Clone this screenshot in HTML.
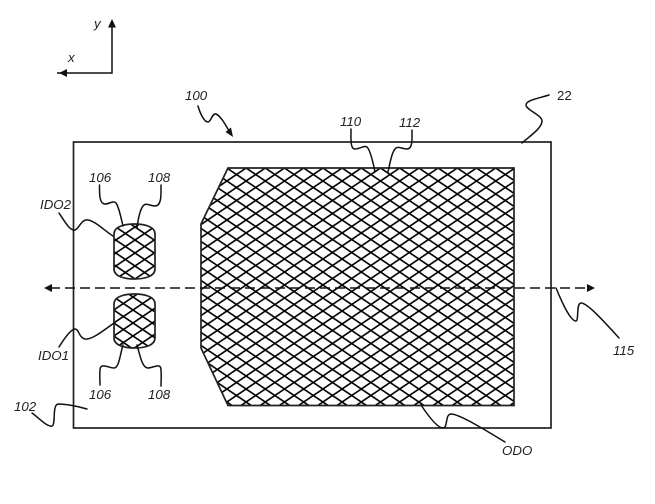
<!DOCTYPE html>
<html>
<head>
<meta charset="utf-8">
<style>
html,body{margin:0;padding:0;background:#fff;}
svg{display:block;}
text{font-family:"Liberation Sans",sans-serif;font-size:13.3px;font-style:italic;fill:#222;}
.l{fill:none;stroke:#111;stroke-width:1.5;stroke-linecap:round;}
</style>
</head>
<body>
<svg width="655" height="504" viewBox="0 0 655 504" xmlns="http://www.w3.org/2000/svg">
<defs>
<pattern id="h1" patternUnits="userSpaceOnUse" x="457.300" y="168" width="19.200" height="13">
<path d="M0 0L19.200 13M0 13L19.200 0" stroke="#000" stroke-width="1.600" fill="none"/>
</pattern>
<pattern id="h2" patternUnits="userSpaceOnUse" x="135" y="227" width="19.200" height="13">
<path d="M0 0L19.200 13M0 13L19.200 0" stroke="#000" stroke-width="1.600" fill="none"/>
</pattern>
<pattern id="h3" patternUnits="userSpaceOnUse" x="133" y="297" width="19.200" height="13">
<path d="M0 0L19.200 13M0 13L19.200 0" stroke="#000" stroke-width="1.600" fill="none"/>
</pattern>
</defs>

<!-- axes -->
<path d="M112 26V73H57" fill="none" stroke="#111" stroke-width="1.500"/>
<path d="M112 19L108 27.500H116Z" fill="#111"/>
<path d="M59 73L67 69V77Z" fill="#111"/>
<text x="94" y="28">y</text>
<text x="68" y="62">x</text>

<!-- outer -->
<rect x="73.500" y="142" width="477.500" height="286" fill="none" stroke="#222" stroke-width="1.700"/>

<!-- ODO -->
<path d="M228 168H514V405.500H228L201 348V224Z" fill="url(#h1)" stroke="#222" stroke-width="1.700"/>

<!-- IDO -->
<path d="M114 234C114 226 126 224 134.500 224C143 224 155 226 155 234V269C155 277 143 279 134.500 279C126 279 114 277 114 269Z" fill="url(#h2)" stroke="#222" stroke-width="1.700"/>
<path d="M114 304C114 296 126 294 134.500 294C143 294 155 296 155 304V338C155 346 143 348 134.500 348C126 348 114 346 114 338Z" fill="url(#h3)" stroke="#222" stroke-width="1.700"/>

<!-- dashed axis -->
<path d="M50 288H589" stroke="#111" stroke-width="1.500" stroke-dasharray="10 5" fill="none"/>
<path d="M44 288L52 284V292Z" fill="#111"/>
<path d="M595 288L587 284V292Z" fill="#111"/>

<!-- leaders -->
<path class="l" d="M59 213C65 222 70 231 75 230C79 229 81 219 88 220C95 221 105 231 113 236"/>
<path class="l" d="M99.500 185C99.500 193 99 204 105 204C110 204 113 200 116 203C119 207 121 218 123 226"/>
<path class="l" d="M161 185C161 193 162 206 155 206C150 206 146 202 143 206C140 210 138 220 137 228"/>
<path class="l" d="M114 323C104 330 92 340 85 339C79 338 79 329 75 329C71 329 64 339 59 347"/>
<path class="l" d="M123 345C120 355 119 368 114 368C109 368 100 362 100 370C99.500 375 100 380 100 385"/>
<path class="l" d="M137 345C140 355 142 368 148 368C153 368 161 362 161 370C161.500 376 161 381 161 386"/>
<path class="l" d="M87 409C77 406 65 404 58 404C52 405 56 425 52 426C47 427 39 418 32 413"/>
<path class="l" d="M198 106C200 113 204 122 208 122C211 122 212 113 216 114C221 116 226 126 231 134"/>
<path d="M233 137L225.500 132L231 127.500Z" fill="#111"/>
<path class="l" d="M351 129C351 138 350 149 355 149C360 149 364 145 367 147C370 150 373 162 375 172"/>
<path class="l" d="M412 130C412 138 413 149 407 149C402 149 399 146 396 148C392 151 390 163 388 172"/>
<path class="l" d="M549 95C540 98 526 100 526 105C526 110 542 115 542 121C542 128 530 136 522 143"/>
<path class="l" d="M556 288C561 300 570 321 576 321C579 321 576 303 581 303C588 303 607 325 619 338"/>
<path class="l" d="M421 405C427 414 437 428 443 428C448 428 445 414 451 414C460 414 490 433 505 442"/>

<!-- labels -->
<text x="185" y="100">100</text>
<text x="340" y="126">110</text>
<text x="399" y="127">112</text>
<text x="557" y="100" style="font-style:normal">22</text>
<text x="89" y="182">106</text>
<text x="148" y="182">108</text>
<text x="40" y="209">IDO2</text>
<text x="38" y="360">IDO1</text>
<text x="89" y="399">106</text>
<text x="148" y="399">108</text>
<text x="14" y="411">102</text>
<text x="613" y="355">115</text>
<text x="502" y="455">ODO</text>
</svg>
</body>
</html>
